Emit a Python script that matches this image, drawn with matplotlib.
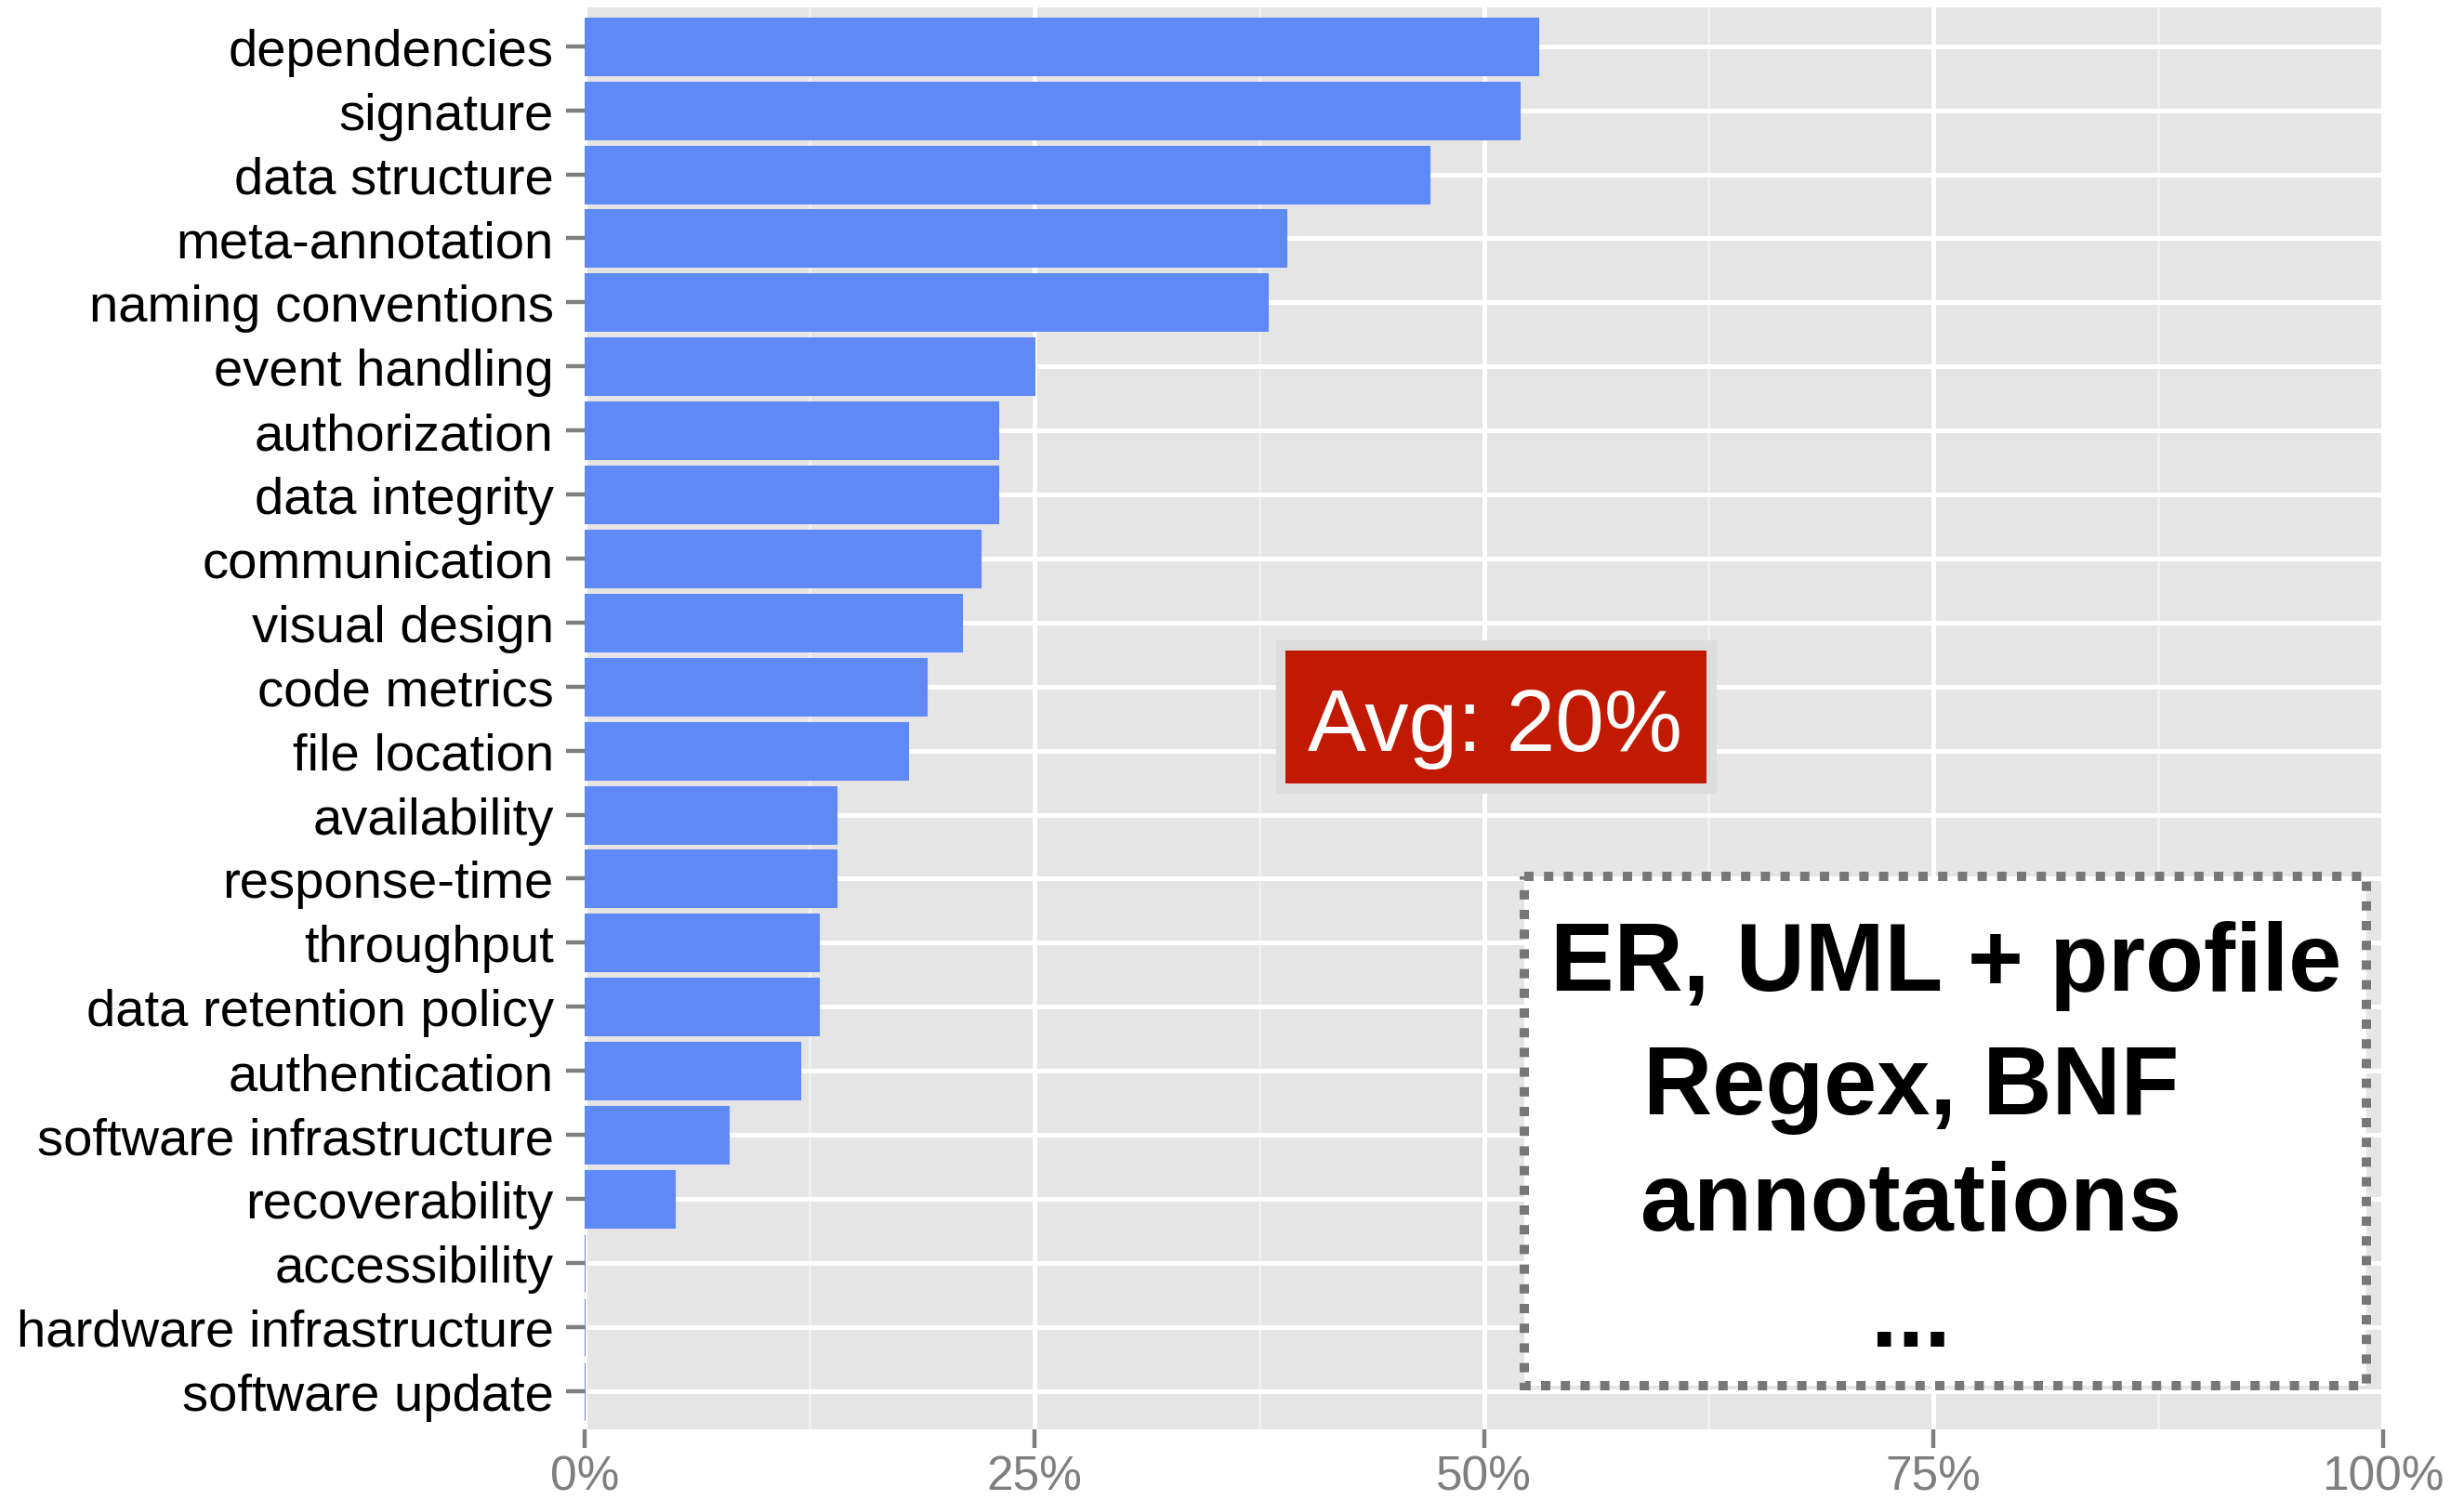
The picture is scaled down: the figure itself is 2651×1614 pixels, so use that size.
import matplotlib
matplotlib.use("Agg")
import matplotlib.pyplot as plt
from matplotlib.patches import Rectangle
from matplotlib.ticker import FixedLocator

plt.rcParams['font.family'] = ['Liberation Sans', 'DejaVu Sans']

categories = ["dependencies", "signature", "data structure", "meta-annotation",
              "naming conventions", "event handling", "authorization", "data integrity",
              "communication", "visual design", "code metrics", "file location",
              "availability", "response-time", "throughput", "data retention policy",
              "authentication", "software infrastructure", "recoverability",
              "accessibility", "hardware infrastructure", "software update"]
values = [53, 52, 47, 39, 38, 25, 23, 23, 22, 21, 19, 18, 14, 14, 13, 13, 12, 8, 5, 0, 0, 0]
x_ticks = [0, 25, 50, 75, 100]
x_tick_labels = ["0%", "25%", "50%", "75%", "100%"]
avg_label = "Avg: 20%"
box_lines = ["ER, UML + profile", "Regex, BNF", "annotations", "..."]

W, H = 2651, 1615
fig = plt.figure(figsize=(W / 100, H / 100), dpi=100)
ax = fig.add_axes([629 / W, 76 / H, (2564 - 629) / W, (1539 - 9.4) / H])
ax.set_facecolor("#E5E5E5")

ypos = list(range(len(categories)))
ax.barh(ypos, values, height=0.9, color="#5F89F6", edgecolor="#5F89F6", linewidth=0.8, zorder=3)

ax.set_xlim(0, 100)
ax.set_ylim(len(categories) - 0.4, -0.6)

# grid
ax.xaxis.set_major_locator(FixedLocator(x_ticks))
ax.xaxis.set_minor_locator(FixedLocator([12.5, 37.5, 62.5, 87.5]))
ax.set_xticklabels(x_tick_labels)
ax.set_yticks(ypos)
ax.set_yticklabels(categories)
ax.grid(True, which="major", axis="both", color="white", linewidth=3.6, zorder=1)
ax.grid(True, which="minor", axis="x", color="#F2F2F2", linewidth=1.8, zorder=1)
ax.set_axisbelow(True)
for s in ax.spines.values():
    s.set_visible(False)

ax.tick_params(axis="y", which="major", length=14.4, width=3.2, color="#7F7F7F",
               labelsize=40.5, labelcolor="black", pad=9.5)
ax.tick_params(axis="x", which="major", length=14.4, width=3.2, color="#7F7F7F",
               labelsize=37, labelcolor="#7F7F7F", pad=5)
ax.tick_params(axis="x", which="minor", length=0)

# Average label
ax.add_patch(Rectangle((38.45, 9.28), 62.95 - 38.45, 11.67 - 9.28,
                       facecolor="#DDDDDD", edgecolor="none", zorder=5))
ax.add_patch(Rectangle((38.97, 9.44), 62.38 - 38.97, 11.52 - 9.44,
                       facecolor="#C21A00", edgecolor="none", zorder=6))
ax.text(50.62, 10.99, avg_label, color="white", fontsize=68, ha="center",
        va="baseline", zorder=7)

# Dotted box
ax.add_patch(Rectangle((52.25, 12.96), 99.07 - 52.25, 20.92 - 12.96,
                       facecolor="white", edgecolor="#777777", linewidth=7.2,
                       linestyle=(0, (1.0, 1.12)), zorder=5, capstyle="butt"))
line_x = [75.71, 73.75, 73.75, 73.75]
line_y = [14.73, 16.67, 18.48, 20.29]
for txt, lx, ly in zip(box_lines, line_x, line_y):
    ax.text(lx, ly, txt, fontsize=74, fontweight="bold", color="black",
            ha="center", va="baseline", zorder=7)

fig.savefig("out.png", dpi=100)
